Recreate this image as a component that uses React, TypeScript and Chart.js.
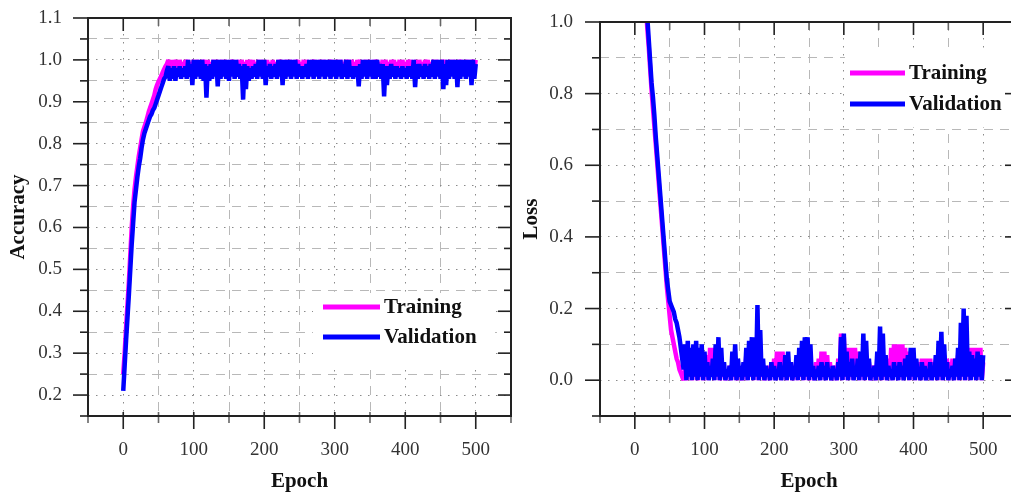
import React, { useEffect, useRef } from 'react';
import { Chart, registerables } from 'chart.js';

Chart.register(...registerables);

// ---------- data: one value every EPOCH_STEP epochs, epochs 0..500 ----------
const EPOCH_STEP = 2;

const TRAIN_ACC = [
  0.25, 0.30, 0.36, 0.415, 0.47, 0.535, 0.60, 0.65, 0.69, 0.72,
  0.745, 0.77, 0.79, 0.81, 0.83, 0.84, 0.85, 0.862, 0.875, 0.885,
  0.895, 0.905, 0.915, 0.93, 0.94, 0.948, 0.955, 0.962, 0.97, 0.978,
  0.985, 0.99, 1.0, 0.975, 1.0, 0.97, 1.0, 0.975, 1.0, 0.97,
  1.0, 0.98, 0.995, 0.97, 1.0, 0.975, 1.0, 0.97, 0.995, 0.975,
  1.0, 0.97, 1.0, 0.975, 0.995, 0.97, 1.0, 0.975, 1.0, 0.965,
  1.0, 0.97, 0.995, 0.975, 1.0, 0.97, 1.0, 0.975, 0.995, 0.98,
  1.0, 0.97, 1.0, 0.975, 0.995, 0.97, 1.0, 0.975, 1.0, 0.97,
  0.995, 0.975, 1.0, 0.97, 1.0, 0.975, 0.995, 0.97, 1.0, 0.98,
  1.0, 0.975, 1.0, 0.97, 0.995, 0.975, 1.0, 0.97, 1.0, 0.975,
  0.995, 0.965, 1.0, 0.96, 0.995, 0.965, 1.0, 0.96, 0.995, 0.97,
  1.0, 0.975, 1.0, 0.97, 0.995, 0.975, 1.0, 0.97, 1.0, 0.975,
  0.995, 0.97, 1.0, 0.975, 1.0, 0.97, 0.995, 0.975, 1.0, 0.97,
  1.0, 0.975, 0.995, 0.97, 1.0, 0.975, 1.0, 0.97, 0.995, 0.975,
  1.0, 0.97, 1.0, 0.975, 0.995, 0.97, 1.0, 0.975, 1.0, 0.97,
  0.995, 0.975, 1.0, 0.97, 1.0, 0.975, 0.995, 0.97, 1.0, 0.975,
  1.0, 0.97, 1.0, 0.975, 0.995, 0.97, 1.0, 0.975, 1.0, 0.97,
  0.995, 0.975, 1.0, 0.97, 1.0, 0.975, 0.995, 0.97, 1.0, 0.975,
  1.0, 0.97, 0.995, 0.975, 1.0, 0.97, 1.0, 0.975, 0.995, 0.97,
  1.0, 0.975, 1.0, 0.97, 0.995, 0.975, 1.0, 0.97, 1.0, 0.975,
  0.995, 0.97, 1.0, 0.975, 1.0, 0.97, 0.995, 0.975, 1.0, 0.97,
  1.0, 0.975, 0.995, 0.97, 1.0, 0.975, 1.0, 0.97, 0.995, 0.975,
  1.0, 0.97, 1.0, 0.975, 0.995, 0.97, 1.0, 0.975, 1.0, 0.97,
  0.995, 0.975, 1.0, 0.97, 1.0, 0.975, 0.995, 0.97, 1.0, 0.975,
  1.0, 0.97, 0.995, 0.975, 1.0, 0.97, 1.0, 0.975, 1.0, 0.98,
  1.0,
];

const VAL_ACC = [
  0.21, 0.27, 0.33, 0.385, 0.44, 0.50, 0.56, 0.61, 0.66, 0.69,
  0.72, 0.745, 0.765, 0.79, 0.81, 0.825, 0.835, 0.845, 0.855, 0.865,
  0.87, 0.88, 0.885, 0.895, 0.905, 0.915, 0.925, 0.935, 0.945, 0.955,
  0.96, 0.975, 0.985, 0.95, 0.98, 0.955, 0.985, 0.95, 0.98, 0.96,
  0.985, 0.955, 0.98, 0.96, 0.985, 0.955, 1.0, 0.96, 0.99, 0.94,
  1.0, 0.955, 1.0, 0.96, 1.0, 0.955, 1.0, 0.95, 0.99, 0.91,
  0.985, 0.95, 0.99, 0.955, 1.0, 0.96, 1.0, 0.937, 1.0, 0.955,
  1.0, 0.96, 1.0, 0.955, 1.0, 0.95, 1.0, 0.96, 1.0, 0.955,
  1.0, 0.96, 0.99, 0.955, 0.985, 0.905, 0.99, 0.93, 0.985, 0.95,
  0.98, 0.955, 0.985, 0.96, 0.99, 0.955, 1.0, 0.96, 1.0, 0.955,
  1.0, 0.94, 0.985, 0.96, 0.99, 0.955, 0.985, 0.96, 0.99, 0.955,
  1.0, 0.96, 1.0, 0.94, 1.0, 0.955, 1.0, 0.96, 1.0, 0.955,
  1.0, 0.96, 1.0, 0.955, 0.99, 0.96, 0.985, 0.955, 0.985, 0.96,
  0.99, 0.955, 1.0, 0.96, 1.0, 0.955, 1.0, 0.96, 1.0, 0.955,
  1.0, 0.96, 1.0, 0.955, 1.0, 0.96, 1.0, 0.955, 1.0, 0.96,
  1.0, 0.955, 1.0, 0.96, 1.0, 0.955, 0.99, 0.96, 1.0, 0.955,
  1.0, 0.96, 0.985, 0.955, 0.985, 0.96, 0.985, 0.937, 0.99, 0.955,
  1.0, 0.96, 1.0, 0.955, 1.0, 0.96, 1.0, 0.955, 1.0, 0.955,
  1.0, 0.96, 0.99, 0.955, 0.99, 0.913, 0.985, 0.94, 0.985, 0.955,
  0.99, 0.96, 0.985, 0.955, 0.985, 0.96, 0.98, 0.955, 0.985, 0.96,
  0.98, 0.955, 0.985, 0.96, 0.985, 0.955, 1.0, 0.935, 0.99, 0.955,
  0.99, 0.96, 0.985, 0.955, 0.99, 0.96, 0.985, 0.955, 0.99, 0.96,
  1.0, 0.955, 1.0, 0.96, 1.0, 0.955, 1.0, 0.93, 0.99, 0.94,
  1.0, 0.955, 1.0, 0.96, 1.0, 0.955, 1.0, 0.935, 1.0, 0.955,
  1.0, 0.96, 1.0, 0.955, 1.0, 0.96, 1.0, 0.94, 1.0, 0.955,
  0.99,
];

const TRAIN_LOSS = [
  1.50, 1.44, 1.38, 1.32, 1.26, 1.20, 1.15, 1.10, 1.04, 0.98,
  0.93, 0.87, 0.81, 0.76, 0.71, 0.66, 0.61, 0.56, 0.51, 0.46,
  0.41, 0.36, 0.31, 0.26, 0.22, 0.18, 0.14, 0.12, 0.10, 0.08,
  0.06, 0.05, 0.03, 0.02, 0.01, 0.0, 0.03, 0.0, 0.04, 0.01,
  0.05, 0.0, 0.04, 0.01, 0.05, 0.0, 0.04, 0.01, 0.05, 0.0,
  0.04, 0.01, 0.07, 0.0, 0.09, 0.01, 0.09, 0.0, 0.07, 0.01,
  0.06, 0.0, 0.04, 0.01, 0.03, 0.0, 0.03, 0.01, 0.04, 0.0,
  0.05, 0.01, 0.05, 0.0, 0.04, 0.01, 0.03, 0.0, 0.04, 0.01,
  0.07, 0.0, 0.09, 0.01, 0.09, 0.0, 0.08, 0.01, 0.08, 0.0,
  0.05, 0.01, 0.04, 0.0, 0.03, 0.01, 0.04, 0.0, 0.05, 0.01,
  0.06, 0.0, 0.08, 0.01, 0.08, 0.0, 0.08, 0.01, 0.06, 0.0,
  0.05, 0.01, 0.05, 0.0, 0.04, 0.01, 0.05, 0.0, 0.06, 0.01,
  0.06, 0.0, 0.07, 0.01, 0.06, 0.0, 0.04, 0.01, 0.03, 0.0,
  0.05, 0.01, 0.06, 0.0, 0.08, 0.01, 0.08, 0.0, 0.07, 0.01,
  0.05, 0.0, 0.04, 0.01, 0.04, 0.0, 0.06, 0.01, 0.13, 0.0,
  0.12, 0.01, 0.09, 0.0, 0.09, 0.01, 0.09, 0.0, 0.09, 0.01,
  0.08, 0.0, 0.06, 0.01, 0.06, 0.0, 0.05, 0.01, 0.05, 0.0,
  0.04, 0.01, 0.04, 0.0, 0.06, 0.01, 0.07, 0.0, 0.06, 0.01,
  0.05, 0.0, 0.06, 0.01, 0.09, 0.0, 0.10, 0.01, 0.10, 0.0,
  0.10, 0.01, 0.10, 0.0, 0.09, 0.01, 0.08, 0.0, 0.06, 0.01,
  0.05, 0.0, 0.05, 0.01, 0.05, 0.0, 0.06, 0.01, 0.06, 0.0,
  0.06, 0.01, 0.06, 0.0, 0.05, 0.01, 0.05, 0.0, 0.07, 0.01,
  0.08, 0.0, 0.07, 0.01, 0.06, 0.0, 0.05, 0.01, 0.06, 0.0,
  0.06, 0.01, 0.07, 0.0, 0.08, 0.01, 0.10, 0.0, 0.09, 0.01,
  0.09, 0.0, 0.09, 0.01, 0.09, 0.0, 0.09, 0.01, 0.09, 0.0,
  0.05,
];

const VAL_LOSS = [
  1.55, 1.49, 1.42, 1.36, 1.30, 1.24, 1.18, 1.12, 1.07, 1.01,
  0.95, 0.89, 0.83, 0.79, 0.74, 0.68, 0.63, 0.58, 0.53, 0.48,
  0.43, 0.38, 0.33, 0.28, 0.25, 0.22, 0.21, 0.20, 0.19, 0.17,
  0.16, 0.14, 0.12, 0.09, 0.06, 0.03, 0.10, 0.0, 0.11, 0.01,
  0.09, 0.0, 0.10, 0.01, 0.11, 0.0, 0.09, 0.01, 0.10, 0.0,
  0.08, 0.01, 0.05, 0.0, 0.04, 0.01, 0.06, 0.0, 0.10, 0.01,
  0.12, 0.0, 0.09, 0.01, 0.05, 0.0, 0.03, 0.01, 0.04, 0.0,
  0.08, 0.01, 0.10, 0.0, 0.06, 0.01, 0.04, 0.0, 0.05, 0.01,
  0.09, 0.0, 0.11, 0.01, 0.12, 0.0, 0.12, 0.01, 0.21, 0.0,
  0.14, 0.01, 0.06, 0.0, 0.04, 0.01, 0.03, 0.0, 0.05, 0.01,
  0.04, 0.0, 0.03, 0.01, 0.05, 0.0, 0.04, 0.01, 0.07, 0.0,
  0.08, 0.01, 0.05, 0.0, 0.03, 0.01, 0.07, 0.0, 0.09, 0.01,
  0.11, 0.0, 0.12, 0.01, 0.12, 0.0, 0.10, 0.01, 0.04, 0.0,
  0.03, 0.01, 0.04, 0.0, 0.05, 0.01, 0.04, 0.0, 0.05, 0.01,
  0.03, 0.0, 0.04, 0.01, 0.03, 0.0, 0.05, 0.01, 0.12, 0.0,
  0.13, 0.01, 0.08, 0.0, 0.05, 0.01, 0.06, 0.0, 0.04, 0.01,
  0.06, 0.0, 0.08, 0.01, 0.13, 0.0, 0.11, 0.01, 0.06, 0.0,
  0.03, 0.01, 0.04, 0.0, 0.08, 0.01, 0.15, 0.0, 0.13, 0.01,
  0.07, 0.0, 0.04, 0.01, 0.03, 0.0, 0.05, 0.01, 0.04, 0.0,
  0.05, 0.01, 0.04, 0.0, 0.06, 0.01, 0.07, 0.0, 0.09, 0.01,
  0.09, 0.0, 0.06, 0.01, 0.03, 0.0, 0.05, 0.01, 0.04, 0.0,
  0.03, 0.01, 0.05, 0.0, 0.04, 0.01, 0.07, 0.0, 0.11, 0.01,
  0.135, 0.0, 0.10, 0.01, 0.05, 0.0, 0.03, 0.01, 0.04, 0.0,
  0.06, 0.01, 0.09, 0.0, 0.16, 0.01, 0.20, 0.0, 0.18, 0.01,
  0.08, 0.0, 0.07, 0.01, 0.06, 0.0, 0.08, 0.01, 0.07, 0.0,
  0.07,
];

const X_TICK_LABELS = ['0', '100', '200', '300', '400', '500'];
const ACC_TICK_LABELS = ['0.2', '0.3', '0.4', '0.5', '0.6', '0.7', '0.8', '0.9', '1.0', '1.1'];
const LOSS_TICK_LABELS = ['0.0', '0.2', '0.4', '0.6', '0.8', '1.0'];
const SERIES_NAMES = ['Training', 'Validation'];
const SERIES_COLORS = ['#ff00ff', '#0000ff'];

// ---------- helpers ----------
const FONT = '"Liberation Serif", "Times New Roman", serif';

const xIsMajor = (v: number) => Math.round(v) % 100 === 0;
const xLabel = (v: number) => {
  const s = String(Math.round(v));
  return xIsMajor(v) && X_TICK_LABELS.includes(s) ? s : '';
};
const accIsMajor = (v: number) => Math.round(v * 100) % 10 === 0;
const accLabel = (v: number) => {
  if (!accIsMajor(v)) return '';
  const s = (Math.round(v * 100) / 100).toFixed(1);
  return ACC_TICK_LABELS.includes(s) ? s : '';
};
const lossIsMajor = (v: number) => Math.round(v * 10) % 2 === 0;
const lossLabel = (v: number) => {
  if (!lossIsMajor(v)) return '';
  const s = (Math.round(v * 10) / 10).toFixed(1);
  return LOSS_TICK_LABELS.includes(s) ? s : '';
};

const toPoints = (ys: number[]) => ys.map((y, i) => ({ x: i * EPOCH_STEP, y }));

const framePlugin = {
  id: 'frame',
  beforeDatasetsDraw(chart: any, _a: any, opts: any) {
    const { ctx } = chart;
    const b = opts.legendBox;
    ctx.save();
    ctx.fillStyle = '#ffffff';
    ctx.fillRect(b[0], b[1], b[2], b[3]);
    ctx.restore();
  },
  afterDatasetsDraw(chart: any, _a: any, opts: any) {
    const { ctx, chartArea: a, scales } = chart;
    const xs = scales.x;
    const ys = scales.y;
    ctx.save();
    ctx.lineCap = 'butt';
    const seg = (x1: number, y1: number, x2: number, y2: number, color: string, w: number) => {
      ctx.strokeStyle = color;
      ctx.lineWidth = w;
      ctx.beginPath();
      ctx.moveTo(x1, y1);
      ctx.lineTo(x2, y2);
      ctx.stroke();
    };
    // x ticks (bottom outward, top inward)
    for (const t of xs.ticks) {
      const px = xs.getPixelForValue(t.value);
      const major = xIsMajor(t.value);
      const col = major ? '#222' : '#666';
      seg(px, a.bottom - 4, px, a.bottom + (major ? 13 : 7), col, 1.6);
      seg(px, a.top, px, a.top + (major ? 13 : 8), col, 1.6);
    }
    // y ticks (left outward, right inward)
    for (const t of ys.ticks) {
      const py = ys.getPixelForValue(t.value);
      const major = opts.yMajor(t.value);
      seg(a.left - (major ? 15 : 8), py, a.left, py, '#222', 1.6);
      seg(a.right - (major ? 13 : 7), py, a.right, py, '#222', 1.6);
    }
    // frame
    ctx.strokeStyle = '#222';
    ctx.lineWidth = 2;
    ctx.strokeRect(a.left, a.top, a.right - a.left, a.bottom - a.top);

    // legend
    const L = opts.legend;
    ctx.font = `bold 21px ${FONT}`;
    ctx.textBaseline = 'middle';
    ctx.textAlign = 'left';
    chart.data.datasets
      .slice()
      .sort((p: any, q: any) => p.legendIndex - q.legendIndex)
      .forEach((ds: any, i: number) => {
        const y = L.rows[i];
        seg(L.lineX[0], y, L.lineX[1], y, ds.borderColor, 5);
        ctx.fillStyle = '#111';
        ctx.fillText(ds.label, L.textX, y + 1);
      });
    ctx.restore();
  },
};

function buildConfig(p: any) {
  const tickFont = { family: FONT, size: 19 };
  const titleFont = { family: FONT, size: 21, weight: 'bold' as const };
  const lineDs = (label: string, color: string, values: number[], legendIndex: number, order: number) => ({
    label,
    legendIndex,
    data: toPoints(values),
    borderColor: color,
    backgroundColor: color,
    borderWidth: 4.5,
    borderJoinStyle: 'bevel',
    pointRadius: 0,
    tension: 0,
    order,
    clip: 0,
  });
  return {
    type: 'line' as const,
    data: {
      datasets: [
        lineDs(SERIES_NAMES[1], SERIES_COLORS[1], p.val, 1, 1),
        lineDs(SERIES_NAMES[0], SERIES_COLORS[0], p.train, 0, 2),
      ],
    },
    options: {
      responsive: false,
      maintainAspectRatio: false,
      animation: false,
      events: [],
      layout: { autoPadding: false, padding: { top: p.padTop, right: p.padRight, left: 0, bottom: 0 } },
      plugins: {
        legend: { display: false },
        tooltip: { enabled: false },
        frame: { yMajor: p.yMajor, legendBox: p.legendBox, legend: p.legend },
      },
      scales: {
        x: {
          type: 'linear',
          min: -50,
          max: 550,
          afterFit: (s: any) => {
            s.height = 80;
            s.paddingLeft = 0;
            s.paddingRight = 0;
          },
          ticks: {
            stepSize: 50,
            autoSkip: false,
            maxRotation: 0,
            padding: 23,
            font: tickFont,
            color: '#333',
            callback: (v: any) => xLabel(Number(v)),
          },
          grid: {
            drawTicks: false,
            lineWidth: 1,
            color: (c: any) => (c.tick && xIsMajor(c.tick.value) ? '#8a8a8a' : '#b8b8b8'),
          },
          border: {
            display: false,
            dash: (c: any) => (c.tick && xIsMajor(c.tick.value) ? [1.5, 6.5] : [9, 7]),
          },
          title: {
            display: true,
            text: 'Epoch',
            font: titleFont,
            color: '#111',
            padding: { top: 0, bottom: 2 },
          },
        },
        y: {
          type: 'linear',
          min: p.yMin,
          max: p.yMax,
          afterFit: (s: any) => {
            s.width = p.yWidth;
            s.paddingTop = 0;
            s.paddingBottom = 0;
          },
          ticks: {
            stepSize: p.yStep,
            autoSkip: false,
            padding: p.yLabelPad,
            font: tickFont,
            color: '#333',
            callback: (v: any) => p.yLabel(Number(v)),
          },
          grid: {
            drawTicks: false,
            lineWidth: 1,
            color: (c: any) => (c.tick && p.yMajor(c.tick.value) ? '#8a8a8a' : '#b8b8b8'),
          },
          border: {
            display: false,
            dash: (c: any) => (c.tick && p.yMajor(c.tick.value) ? [1.5, 6.5] : [9, 7]),
          },
          title: {
            display: true,
            text: p.yTitle,
            font: titleFont,
            color: '#111',
            padding: { top: p.yTitlePad, bottom: 0 },
          },
        },
      },
    },
    plugins: [framePlugin],
  };
}

export default function App() {
  const leftRef = useRef<HTMLCanvasElement>(null);
  const rightRef = useRef<HTMLCanvasElement>(null);

  useEffect(() => {
    const left = new Chart(
      leftRef.current as HTMLCanvasElement,
      buildConfig({
        train: TRAIN_ACC,
        val: VAL_ACC,
        yMin: 0.15,
        yMax: 1.1,
        yStep: 0.05,
        yMajor: accIsMajor,
        yLabel: accLabel,
        yTitle: 'Accuracy',
        yWidth: 88,
        padTop: 18,
        padRight: 4,
        yLabelPad: 26,
        yTitlePad: 6,
        legendBox: [313, 293, 182, 72],
        legend: { lineX: [323, 380], textX: 384, rows: [307, 337] },
      }) as any
    );
    const right = new Chart(
      rightRef.current as HTMLCanvasElement,
      buildConfig({
        train: TRAIN_LOSS,
        val: VAL_LOSS,
        yMin: -0.1,
        yMax: 1.0,
        yStep: 0.1,
        yMajor: lossIsMajor,
        yLabel: lossLabel,
        yTitle: 'Loss',
        yWidth: 85,
        padTop: 22,
        padRight: 12,
        yLabelPad: 27,
        yTitlePad: 4,
        legendBox: [330, 52, 185, 75],
        legend: { lineX: [335, 390], textX: 394, rows: [73, 104] },
      }) as any
    );
    return () => {
      left.destroy();
      right.destroy();
    };
  }, []);

  return (
    <div
      style={{
        position: 'fixed',
        left: 0,
        top: 0,
        width: 1011,
        height: 496,
        overflow: 'hidden',
        background: '#ffffff',
      }}
    >
      <canvas
        ref={leftRef}
        width={515}
        height={496}
        style={{ position: 'absolute', left: 0, top: 0, width: 515, height: 496 }}
      />
      <canvas
        ref={rightRef}
        width={515}
        height={496}
        style={{ position: 'absolute', left: 515, top: 0, width: 515, height: 496 }}
      />
    </div>
  );
}
